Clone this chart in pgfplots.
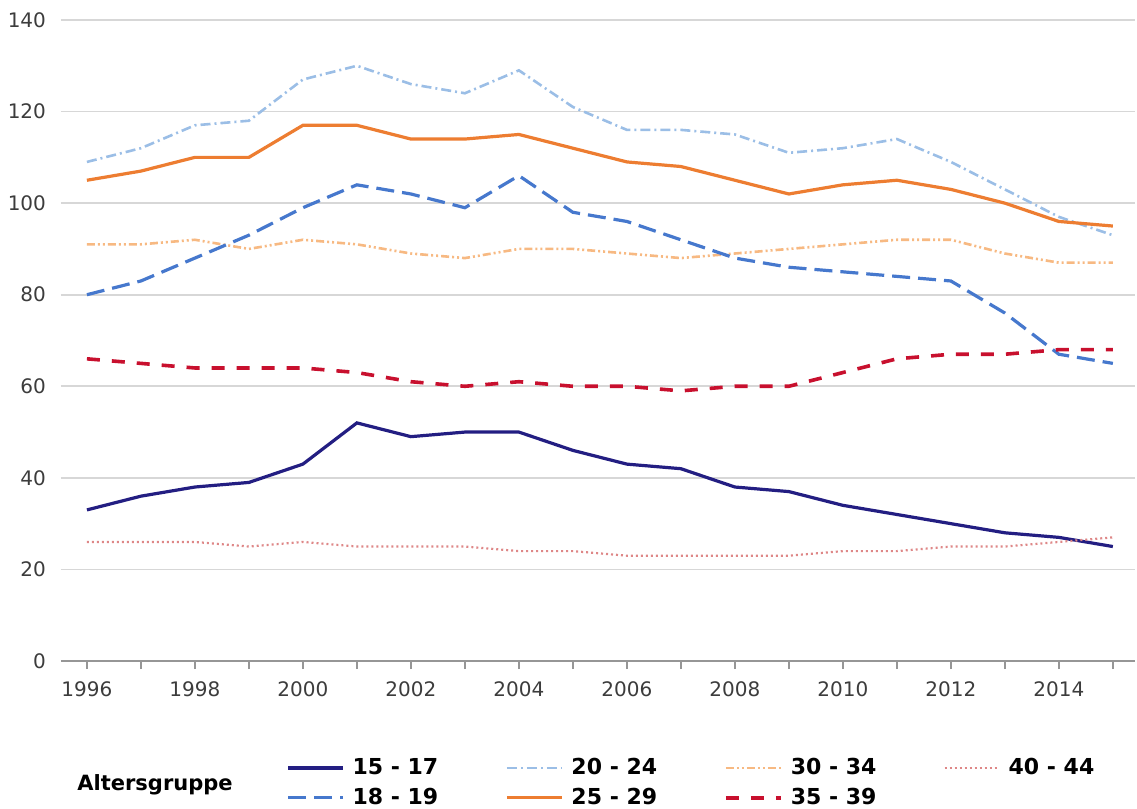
\documentclass[border=0pt]{standalone}
\usepackage{pgfplots}
\usepackage{pgfplotstable}
\pgfplotsset{compat=1.18}
\usepackage{fontspec}
\setmainfont{DejaVu Sans}
\definecolor{cA}{RGB}{35,30,130}
\definecolor{cB}{RGB}{70,120,205}
\definecolor{cC}{RGB}{155,190,230}
\definecolor{cD}{RGB}{237,125,49}
\definecolor{cE}{RGB}{247,185,130}
\definecolor{cF}{RGB}{200,16,46}
\definecolor{cG}{RGB}{222,135,135}
\definecolor{gridgray}{RGB}{215,215,215}
\definecolor{axgray}{RGB}{150,150,150}
\definecolor{labgray}{RGB}{60,60,60}
\pgfplotstableread{
year a b c d e f g
1996 33 80 109 105 91 66 26
1997 36 83 112 107 91 65 26
1998 38 88 117 110 92 64 26
1999 39 93 118 110 90 64 25
2000 43 99 127 117 92 64 26
2001 52 104 130 117 91 63 25
2002 49 102 126 114 89 61 25
2003 50 99 124 114 88 60 25
2004 50 106 129 115 90 61 24
2005 46 98 121 112 90 60 24
2006 43 96 116 109 89 60 23
2007 42 92 116 108 88 59 23
2008 38 88 115 105 89 60 23
2009 37 86 111 102 90 60 23
2010 34 85 112 104 91 63 24
2011 32 84 114 105 92 66 24
2012 30 83 109 103 92 67 25
2013 28 76 103 100 89 67 25
2014 27 67 97 96 87 68 26
2015 25 65 93 95 87 68 27
}\data
\begin{document}
\begin{tikzpicture}
\begin{axis}[
  at={(0,0)}, anchor=south west,
  width=537pt, height=320.5pt, scale only axis,
  xmin=1995.52, xmax=2015.41, ymin=0, ymax=140,
  xtick={1996,1998,...,2014}, minor xtick={1997,1999,...,2015},
  ytick={0,20,...,140},
  axis x line*=bottom, axis y line*=left,
  y axis line style={draw=none},
  x axis line style={draw=axgray, line width=0.8pt, -},
  ymajorgrids, grid style={draw=gridgray, line width=0.8pt},
  y tick style={draw=none},
  x tick style={draw=axgray, line width=0.8pt},
  tick align=outside, major tick length=4pt, minor tick length=4pt,
  ticklabel style={font=\fontsize{10}{12}\selectfont, text=labgray},
  xticklabel style={yshift=-3pt},
  /pgf/number format/assume math mode=true,
  /pgf/number format/1000 sep={},
  clip=false,
  legend columns=4,
  legend cell align=left,
  legend style={at={(axis description cs:0.2095,-0.1450)}, anchor=north west,
    draw=none, fill=none, inner sep=0pt,
    font=\bfseries\fontsize{11}{13}\selectfont, row sep=1.2pt,
    /tikz/every even column/.append style={column sep=31.5pt},
    /tikz/every odd column/.append style={column sep=2pt}},
  legend image code/.code={\draw[#1] (0pt,0pt) -- (27.5pt,0pt);},
]
\addplot[cA, line width=1.6pt] table[x=year,y=a]{\data};
\addlegendentry{15 - 17}
\addplot[cC, line width=1.3pt, dash pattern=on 5pt off 2pt on 1pt off 2pt] table[x=year,y=c]{\data};
\addlegendentry{20 - 24}
\addplot[cE, line width=1.3pt, dash pattern=on 4pt off 1.5pt on 1pt off 1.5pt on 1pt off 1.5pt] table[x=year,y=e]{\data};
\addlegendentry{30 - 34}
\addplot[cG, line width=1.1pt, dash pattern=on 1pt off 1.5pt] table[x=year,y=g]{\data};
\addlegendentry{40 - 44}
\addplot[cB, line width=1.6pt, dash pattern=on 9pt off 4pt] table[x=year,y=b]{\data};
\addlegendentry{18 - 19}
\addplot[cD, line width=1.6pt] table[x=year,y=d]{\data};
\addlegendentry{25 - 29}
\addplot[cF, line width=1.8pt, dash pattern=on 6.5pt off 6pt] table[x=year,y=f]{\data};
\addlegendentry{35 - 39}
\end{axis}
\node[anchor=west, inner sep=0pt, font=\bfseries\fontsize{10.5}{12}\selectfont] at (8pt,-62pt) {Altersgruppe};
\pgfresetboundingbox
\path[use as bounding box] (-30.5pt,-74pt) rectangle (538pt,330.5pt);
\end{tikzpicture}
\end{document}
